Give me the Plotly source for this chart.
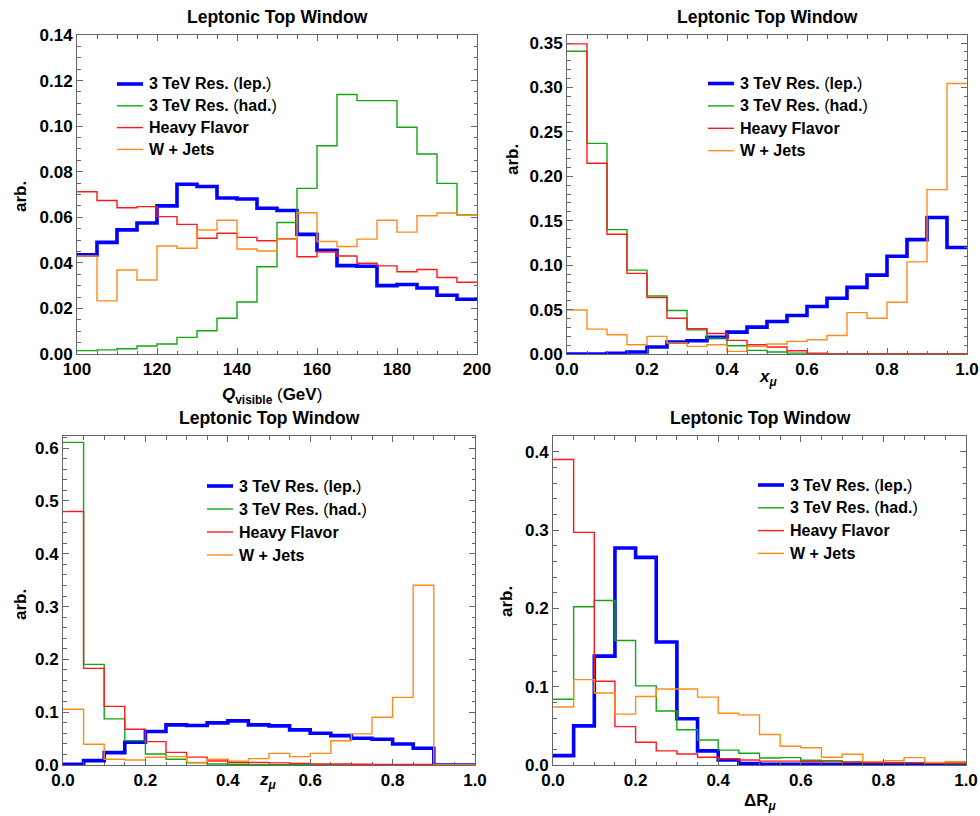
import plotly.graph_objects as go

W, H = 980, 816

# ---------------- data ----------------
series_names = ["<b>3 TeV Res.</b> (<b>lep.</b>)", "<b>3 TeV Res.</b> (<b>had.</b>)",
                "<b>Heavy Flavor</b>", "<b>W + Jets</b>"]
series_colors = ["#0000ff", "#12a812", "#ff1a1a", "#ff8c1a"]
series_widths = [3.6, 1.4, 1.4, 1.4]

# Panel 1: Q_visible (GeV), bins of 5 GeV from 100 to 200
q_edges = [100, 105, 110, 115, 120, 125, 130, 135, 140, 145, 150,
           155, 160, 165, 170, 175, 180, 185, 190, 195, 200]
q_lep = [0.0435, 0.049, 0.0545, 0.0575, 0.065, 0.0745, 0.0735, 0.0685, 0.068, 0.064,
         0.063, 0.0525, 0.0455, 0.0388, 0.0385, 0.030, 0.0305, 0.029, 0.0258, 0.024]
q_had = [0.0015, 0.0018, 0.0023, 0.0035, 0.0044, 0.0073, 0.0102, 0.0157, 0.0228, 0.0383,
         0.0577, 0.0727, 0.0914, 0.1139, 0.1112, 0.1112, 0.0995, 0.0878, 0.0749, 0.061]
q_hf = [0.0712, 0.0674, 0.0642, 0.0647, 0.0603, 0.0569, 0.0508, 0.053, 0.0512, 0.0497,
        0.0505, 0.0427, 0.0449, 0.043, 0.0398, 0.0387, 0.0361, 0.0371, 0.0336, 0.0315]
q_wj = [0.043, 0.0233, 0.0369, 0.0325, 0.0474, 0.0464, 0.0544, 0.0587, 0.0461, 0.0452,
        0.0503, 0.062, 0.0494, 0.0472, 0.0504, 0.0587, 0.0535, 0.0607, 0.0619, 0.0609]

# Panels 2-4: bins of 0.05 from 0 to 1
u_edges = [0.0, 0.05, 0.1, 0.15, 0.2, 0.25, 0.3, 0.35, 0.4, 0.45, 0.5,
           0.55, 0.6, 0.65, 0.7, 0.75, 0.8, 0.85, 0.9, 0.95, 1.0]

x_lep = [0.0, 0.0, 0.0007, 0.0022, 0.0078, 0.0134, 0.0149, 0.0187, 0.0246, 0.0302,
         0.0366, 0.0433, 0.0534, 0.0627, 0.075, 0.0888, 0.110, 0.1287, 0.1537, 0.1198]
x_had = [0.3407, 0.237, 0.140, 0.0944, 0.0653, 0.0489, 0.0272, 0.0179, 0.0093, 0.0041,
         0.0022, 0.001, 0.0, 0.0, 0.0, 0.0, 0.0, 0.0, 0.0, 0.0]
x_hf = [0.349, 0.2146, 0.1347, 0.0907, 0.0634, 0.0403, 0.0284, 0.0231, 0.0153, 0.0104,
        0.0078, 0.0037, 0.001, 0.0, 0.0, 0.0, 0.0, 0.0, 0.0, 0.0]
x_wj = [0.0496, 0.028, 0.0216, 0.0104, 0.0198, 0.0123, 0.0086, 0.0104, 0.003, 0.0086,
        0.0112, 0.0142, 0.016, 0.0209, 0.0466, 0.0403, 0.0582, 0.1037, 0.185, 0.3045]

z_lep = [0.0013, 0.0082, 0.0234, 0.043, 0.0633, 0.076, 0.0747, 0.0797, 0.0835, 0.076,
         0.074, 0.0665, 0.060, 0.0557, 0.0506, 0.0487, 0.0399, 0.0316, 0.0, 0.0]
z_had = [0.611, 0.1905, 0.0873, 0.0462, 0.0209, 0.0108, 0.0044, 0.002, 0.0013, 0.001,
         0.0008, 0.0005, 0.0004, 0.0003, 0.0003, 0.0002, 0.0002, 0.0001, 0.0, 0.0]
z_hf = [0.48, 0.183, 0.111, 0.0677, 0.0443, 0.024, 0.015, 0.0076, 0.005, 0.005,
        0.004, 0.003, 0.002, 0.002, 0.0015, 0.001, 0.001, 0.001, 0.0, 0.0]
z_wj = [0.1057, 0.0392, 0.0108, 0.0095, 0.0146, 0.0158, 0.005, 0.0108, 0.007, 0.012,
        0.022, 0.0158, 0.022, 0.046, 0.0589, 0.0905, 0.128, 0.3405, 0.0, 0.0]

r_lep = [0.012, 0.050, 0.139, 0.277, 0.265, 0.157, 0.059, 0.018, 0.0064, 0.002,
         0.001, 0.001, 0.0008, 0.0005, 0.0005, 0.0003, 0.0003, 0.0002, 0.0002, 0.0001]
r_had = [0.084, 0.202, 0.21, 0.159, 0.101, 0.069, 0.045, 0.032, 0.019, 0.015,
         0.009, 0.0094, 0.006, 0.0055, 0.004, 0.0035, 0.003, 0.003, 0.0025, 0.002]
r_hf = [0.39, 0.297, 0.107, 0.049, 0.029, 0.018, 0.014, 0.0098, 0.008, 0.0064,
        0.005, 0.005, 0.0045, 0.004, 0.0035, 0.003, 0.003, 0.003, 0.0025, 0.0025]
r_wj = [0.074, 0.109, 0.092, 0.065, 0.0875, 0.097, 0.097, 0.0866, 0.066, 0.064,
        0.039, 0.024, 0.022, 0.0098, 0.0137, 0.0043, 0.0055, 0.0094, 0.0034, 0.0043]

panels = [
    (q_edges, [q_lep, q_had, q_hf, q_wj]),
    (u_edges, [x_lep, x_had, x_hf, x_wj]),
    (u_edges, [z_lep, z_had, z_hf, z_wj]),
    (u_edges, [r_lep, r_had, r_hf, r_wj]),
]

FONT = "Liberation Sans, Arial, Helvetica, sans-serif"
FS = 17
LEG_FS = 16
FRAME = "#666666"


def px(x):
    return x / W


def py(y):
    return 1 - y / H


fig = go.Figure()

for p, (edges, vals_list) in enumerate(panels, start=1):
    suffix = "" if p == 1 else str(p)
    for name, col, lw, vals in zip(series_names, series_colors, series_widths, vals_list):
        fig.add_trace(go.Scatter(
            x=edges, y=list(vals) + [vals[-1]],
            mode="lines", line=dict(shape="hv", color=col, width=lw),
            name=name, xaxis="x" + suffix, yaxis="y" + suffix,
            showlegend=False, hoverinfo="skip",
        ))

# panel geometry (pixel frame boxes)
boxes = {
    1: (77, 477, 35, 354),
    2: (567, 967, 35, 354),
    3: (63, 475, 436, 765),
    4: (553, 966, 436, 765),
}
xcfg = {
    1: dict(range=[100, 200], tick0=100, dtick=20, minor=5, fmt="d"),
    2: dict(range=[0, 1], tick0=0, dtick=0.2, minor=0.05, fmt=".1f"),
    3: dict(range=[0, 1], tick0=0, dtick=0.2, minor=0.05, fmt=".1f"),
    4: dict(range=[0, 1], tick0=0, dtick=0.2, minor=0.05, fmt=".1f"),
}
ycfg = {
    1: dict(range=[0, 0.14001], dtick=0.02, minor=0.005, fmt=".2f"),
    2: dict(range=[0, 0.359], dtick=0.05, minor=0.01, fmt=".2f"),
    3: dict(range=[0, 0.623], dtick=0.1, minor=0.02, fmt=".1f"),
    4: dict(range=[0, 0.42], dtick=0.1, minor=0.02, fmt=".1f"),
}

layout = dict(
    width=W, height=H, margin=dict(l=0, r=0, t=0, b=0, pad=0, autoexpand=False),
    paper_bgcolor="white", plot_bgcolor="white", showlegend=False,
    font=dict(family=FONT, size=FS, color="black"),
)

tickfont = dict(family=FONT, size=FS, color="black", weight="bold")
for p in range(1, 5):
    x0, x1, y0, y1 = boxes[p]
    s = "" if p == 1 else str(p)
    xc, yc = xcfg[p], ycfg[p]
    common = dict(showgrid=False, zeroline=False, showline=True, linecolor=FRAME,
                  linewidth=1, mirror="allticks", ticks="inside", ticklen=6,
                  tickwidth=1, tickcolor=FRAME, tickfont=tickfont, automargin=False)
    layout["xaxis" + s] = dict(
        domain=[px(x0), px(x1)], range=xc["range"], tick0=xc["tick0"], dtick=xc["dtick"],
        tickformat=xc["fmt"], anchor="y" + s,
        minor=dict(ticks="inside", ticklen=3.5, tickcolor=FRAME, dtick=xc["minor"],
                   tick0=xc["tick0"], showgrid=False),
        **common)
    layout["yaxis" + s] = dict(
        domain=[py(y1), py(y0)], range=yc["range"], tick0=0, dtick=yc["dtick"],
        tickformat=yc["fmt"], anchor="x" + s,
        minor=dict(ticks="inside", ticklen=3.5, tickcolor=FRAME, dtick=yc["minor"],
                   tick0=0, showgrid=False),
        **common)

annotations = []
shapes = []

# manual legends: (line start x, first row y, row step)
legend_geo = {1: (117, 84.0, 21.8), 2: (708, 83.5, 22.4),
              3: (207, 486.0, 23.0), 4: (758, 485.0, 22.8)}
KEY_LEN = 26
KEY_GAP = 3.5
for p, (lx, ly, step) in legend_geo.items():
    for i, (name, col, lw) in enumerate(zip(series_names, series_colors, series_widths)):
        yy = ly + i * step
        shapes.append(dict(type="line", xref="paper", yref="paper",
                           x0=px(lx), x1=px(lx + KEY_LEN), y0=py(yy), y1=py(yy),
                           line=dict(color=col, width=lw)))
        annotations.append(dict(text=name, x=px(lx + KEY_LEN + KEY_GAP), y=py(yy),
                                xref="paper", yref="paper", showarrow=False,
                                xanchor="left", yanchor="middle",
                                font=dict(family=FONT, size=LEG_FS, color="black")))

titles = {1: (277, 17), 2: (767, 17), 3: (269, 418), 4: (760, 418)}
for p, (tx, ty) in titles.items():
    annotations.append(dict(text="<b>Leptonic Top Window</b>", x=px(tx), y=py(ty),
                            xref="paper", yref="paper", showarrow=False,
                            xanchor="center", yanchor="middle",
                            font=dict(family=FONT, size=17.5, color="black")))

ylabels = {1: (20, 197), 2: (513, 160), 3: (20, 605), 4: (506, 602)}
for p, (tx, ty) in ylabels.items():
    annotations.append(dict(text="<b>arb.</b>", x=px(tx), y=py(ty), xref="paper",
                            yref="paper", showarrow=False, textangle=-90,
                            xanchor="center", yanchor="middle",
                            font=dict(family=FONT, size=FS, color="black")))

xlabels = {
    1: ("<b><i>Q</i><sub>visible</sub></b> (<b>GeV</b>)", 272, 396),
    2: ("<b><i>x</i><sub><i>μ</i></sub></b>", 768, 378),
    3: ("<b><i>z</i><sub><i>μ</i></sub></b>", 268, 781),
    4: ("<b>ΔR<sub><i>μ</i></sub></b>", 760, 802),
}
for p, (t, tx, ty) in xlabels.items():
    annotations.append(dict(text=t, x=px(tx), y=py(ty), xref="paper", yref="paper",
                            showarrow=False, xanchor="center", yanchor="middle",
                            font=dict(family=FONT, size=FS, color="black")))

layout["annotations"] = annotations
layout["shapes"] = shapes
fig.update_layout(**layout)

fig.write_html("out.html", config={"displayModeBar": False},
               post_script="document.body.style.margin='0px';")
